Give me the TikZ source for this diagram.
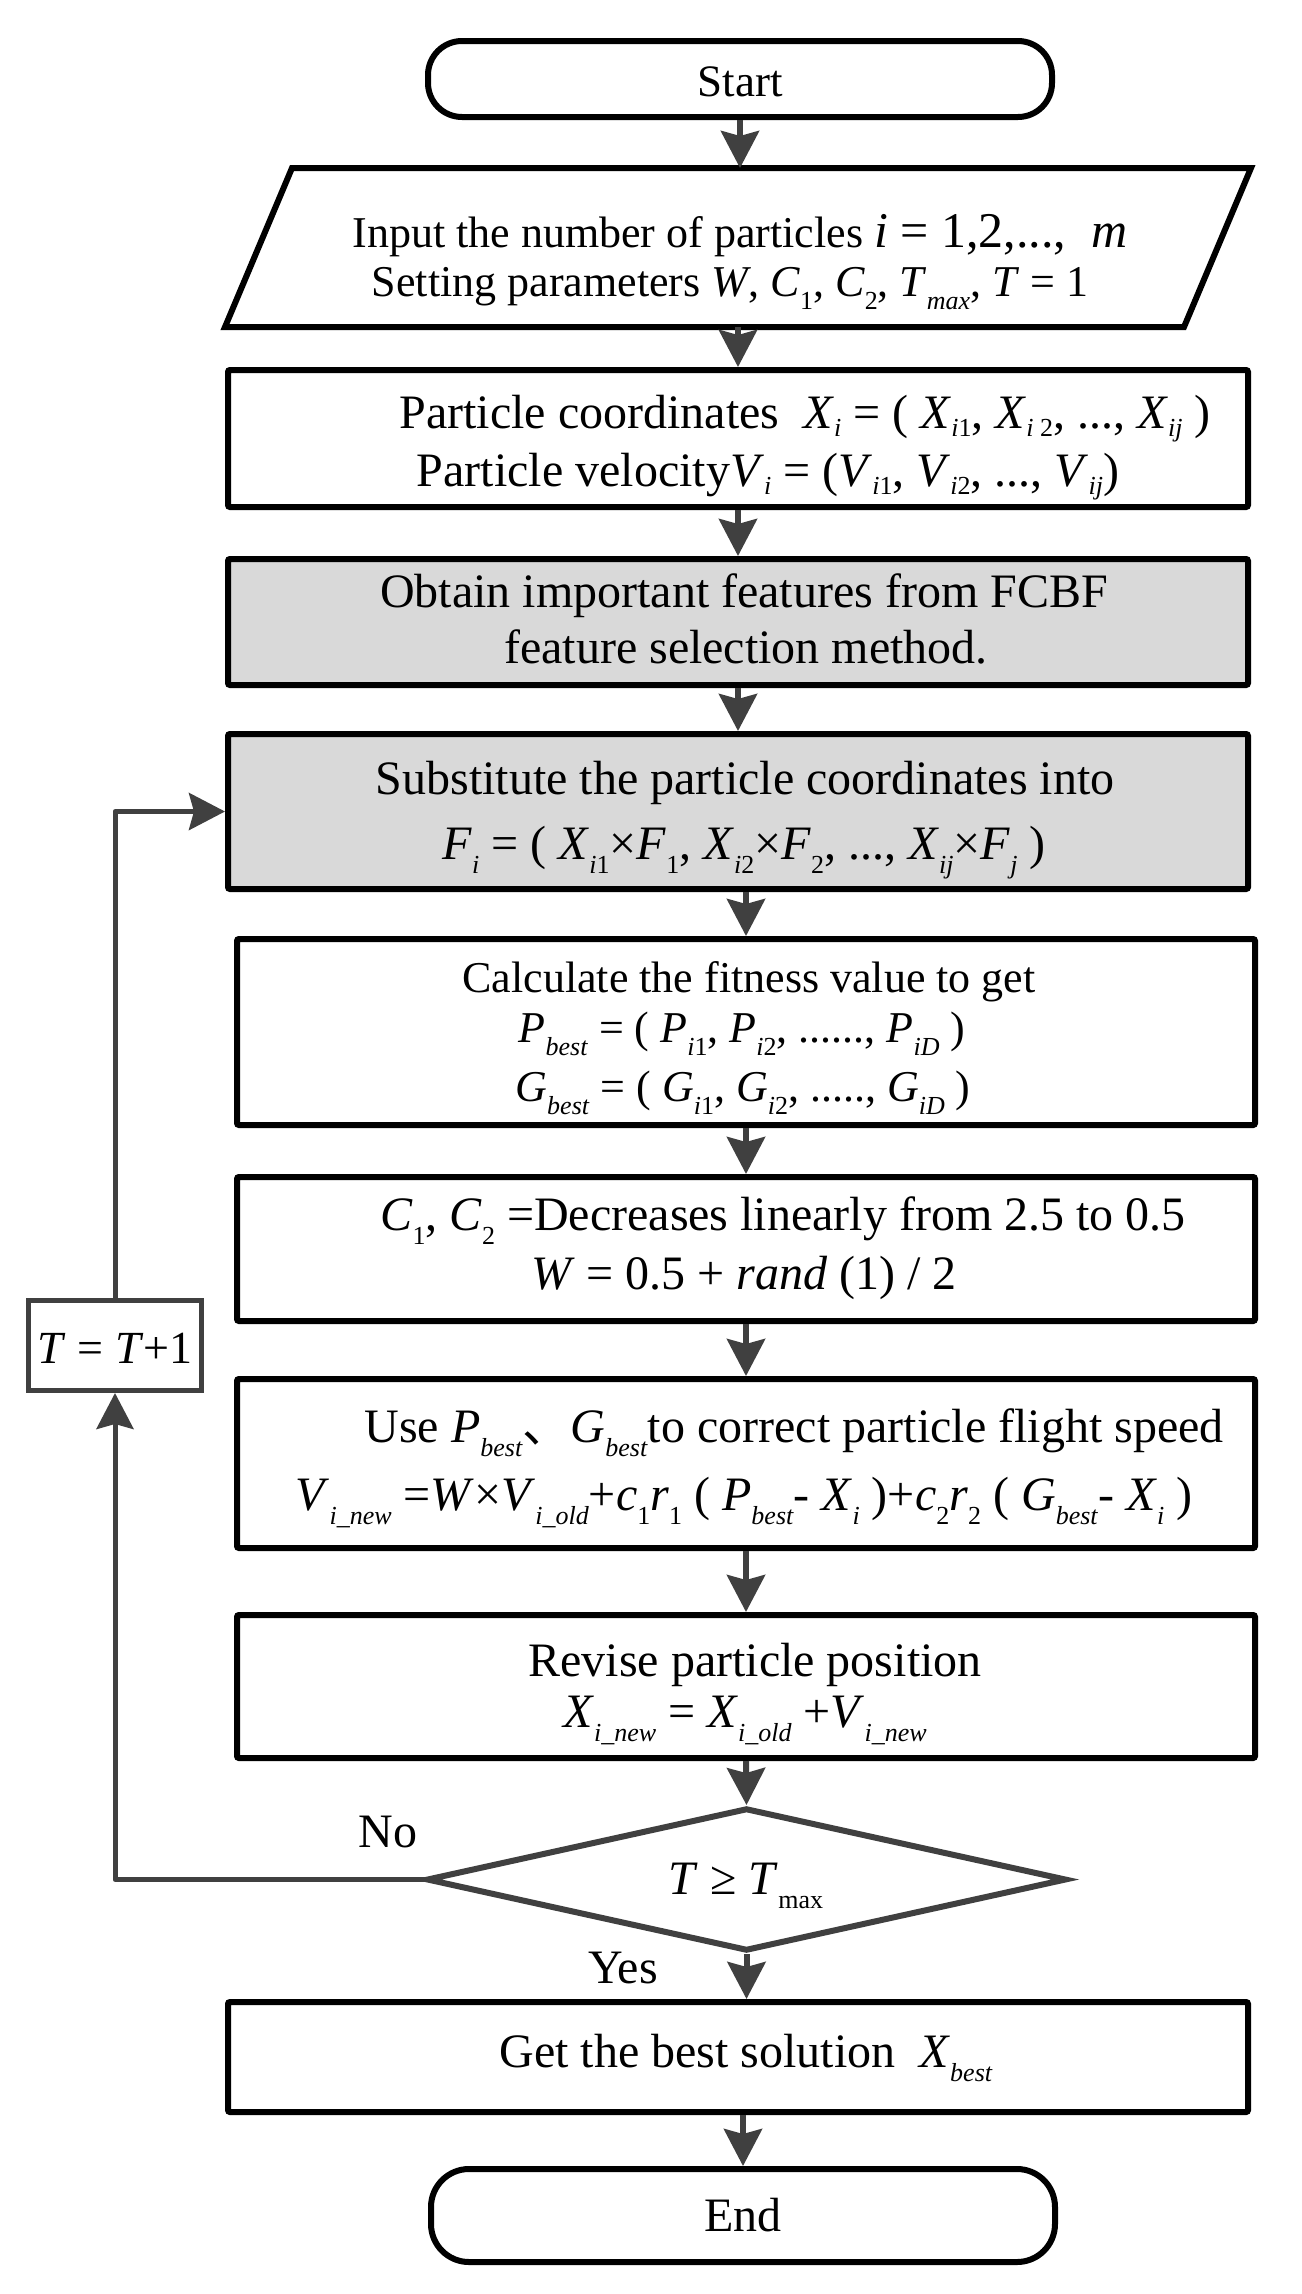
\documentclass[tikz,border=0pt]{standalone}
\usepackage{fontspec}
\setmainfont{Liberation Serif}
\newfontfamily\cjk{Noto Sans CJK SC}
\usetikzlibrary{arrows.meta,shapes.geometric}
\definecolor{dg}{HTML}{404040}
\definecolor{lg}{HTML}{D9D9D9}
\newcommand\lo[1]{\raisebox{-0.3em}{\fontsize{26}{26}\selectfont #1}}
\newcommand\los[1]{\raisebox{-0.18em}{\fontsize{26}{26}\selectfont #1}}
\newcommand\mi[1]{\textit{#1}}
\begin{document}
\begin{tikzpicture}[x=1pt,y=-1pt,
  box/.style={draw=black, line width=6pt, minimum width=1020pt, inner sep=0pt, rounded corners=2pt},
  gbox/.style={box, fill=lg},
  term/.style={draw=black, line width=6pt, minimum width=624pt, inner sep=0pt},
  arr/.style={draw=dg, line width=6pt, -{Stealth[length=37pt,width=38pt,inset=5pt]}},
  loopline/.style={draw=dg, line width=5pt, line join=round, -{Stealth[length=36pt,width=37pt,inset=5pt]}},
  txt/.style={anchor=base, inner sep=0pt, font=\fontsize{48}{48}\selectfont},
  stxt/.style={anchor=base, inner sep=0pt, font=\fontsize{44}{44}\selectfont}]
\useasboundingbox[fill=white] (0,0) rectangle (1301,2294);

% shapes
\node[term, minimum height=76pt, rounded corners=34pt] (start) at (740,79) {};
\node[minimum width=1020pt, minimum height=153pt, inner sep=0pt, outer sep=3pt] (para) at (738,247.5) {};
\draw[black, line width=6pt] ([xshift=67pt]para.north west) -- (para.north east) -- ([xshift=-67pt]para.south east) -- (para.south west) -- cycle;
\node[box, minimum height=137pt] (b3) at (738,438.5) {};
\node[gbox, minimum height=126pt] (b4) at (738,622) {};
\node[gbox, minimum height=155pt] (b5) at (738,811.5) {};
\node[box, minimum width=1018pt, minimum height=186pt] (b6) at (746,1032) {};
\node[box, minimum width=1018pt, minimum height=144pt] (b7) at (746,1249) {};
\node[box, minimum width=1018pt, minimum height=169pt] (b8) at (746,1463.5) {};
\node[box, minimum width=1018pt, minimum height=143pt] (b9) at (746,1686.5) {};
\node[diamond, draw=dg, line width=6pt, minimum width=640pt, minimum height=143pt, inner sep=0pt] (dia) at (746.5,1879.5) {};
\node[box, minimum height=110pt] (fin) at (738,2057) {};
\node[term, minimum height=93pt, rounded corners=38pt] (end) at (743,2215.5) {};
\node[draw=dg, line width=5pt, minimum width=173pt, minimum height=90pt, inner sep=0pt] (tb) at (115,1345.5) {};

% texts
\node[txt, font=\fontsize{45}{45}\selectfont] (tstart) at (740,96) {Start};
\node[stxt] (tp1) at (740,247) {Input the number of particles {\fontsize{50}{50}\selectfont \mi{i}\ = 1,2,..., \ \mi{m}}};
\node[stxt] (tp2) at (730,296) {Setting parameters \mi{W}, \mi{C}\lo{1}, \mi{C}\lo{2}, \mi{T}\lo{\mi{max}}, \mi{T} = 1};
\node[txt] (t3a) at (805,428) {Particle coordinates\ \ \mi{X}\los{\mi{i}} = ( \mi{X}\los{\mi{i}1}, \mi{X}\los{\mi{i} 2}, ..., \mi{X}\los{\mi{ij}} )};
\node[txt] (t3b) at (768,486) {Particle velocity\mi{V}\los{\mi{i}} = (\mi{V}\los{\mi{i}1}, \mi{V}\los{\mi{i}2}, ..., \mi{V}\los{\mi{ij}})};
\node[txt] (t4a) at (744,607) {Obtain important features from FCBF};
\node[txt] (t4b) at (746,663) {feature selection method.};
\node[txt] (t5a) at (745,794) {Substitute the particle coordinates into};
\node[txt] (t5b) at (744,859) {\mi{F}\lo{\mi{i}} = ( \mi{X}\lo{\mi{i}1}×\mi{F}\lo{1}, \mi{X}\lo{\mi{i}2}×\mi{F}\lo{2}, ..., \mi{X}\lo{\mi{ij}}×\mi{F}\lo{\mi{j}} )};
\node[stxt] (t6a) at (749,992) {Calculate the fitness value to get};
\node[stxt] (t6b) at (742,1042) {\mi{P}\lo{\mi{best}} = ( \mi{P}\lo{\mi{i}1}, \mi{P}\lo{\mi{i}2}, ......, \mi{P}\lo{\mi{iD}} )};
\node[stxt] (t6c) at (743,1101) {\mi{G}\lo{\mi{best}} = ( \mi{G}\lo{\mi{i}1}, \mi{G}\lo{\mi{i}2}, ....., \mi{G}\lo{\mi{iD}} )};
\node[txt] (t7a) at (783,1230) {\mi{C}\lo{1}, \mi{C}\lo{2} =Decreases linearly from 2.5 to 0.5};
\node[txt] (t7b) at (744,1289) {\mi{W} = 0.5 + \mi{rand} (1) / 2};
\node[txt] (t8a) at (794,1442) {Use \mi{P}\lo{\mi{best}}{\cjk 、}\mi{G}\lo{\mi{best}}to correct particle flight speed};
\node[txt] (t8b) at (744,1510) {\mi{V}\lo{\mi{i\_new}} =\mi{W}×\mi{V}\lo{\mi{i\_old}}+\mi{c}\lo{1}\mi{r}\lo{1} ( \mi{P}\lo{\mi{best}}- \mi{X}\lo{\mi{i}} )+\mi{c}\lo{2}\mi{r}\lo{2} ( \mi{G}\lo{\mi{best}}- \mi{X}\lo{\mi{i}} )};
\node[txt] (t9a) at (755,1676) {Revise particle position};
\node[txt] (t9b) at (745,1727) {\mi{X}\lo{\mi{i\_new}} = \mi{X}\lo{\mi{i\_old}} +\mi{V}\lo{\mi{i\_new}}};
\node[txt] (tdia) at (746,1894) {\mi{T} ≥ \mi{T}\lo{max}};
\node[txt] (tfin) at (746,2067) {Get the best solution\ \ \mi{X}\lo{\mi{best}}};
\node[txt] (tend) at (743,2231) {End};
\node[txt] (tno) at (388,1847) {No};
\node[txt] (tyes) at (623,1983) {Yes};
\node[txt, font=\fontsize{46}{46}\selectfont] (ttb) at (115,1363) {\mi{T} = \mi{T}+1};

% connectors
\draw[arr] (start.south) -- (start.south |- para.north);
\draw[arr] (b3.north |- para.south) -- (b3.north);
\draw[arr] (b3.south) -- (b4.north);
\draw[arr] (b4.south) -- (b5.north);
\draw[arr] (b6.north |- b5.south) -- (b6.north);
\draw[arr] (b6.south) -- (b7.north);
\draw[arr] (b7.south) -- (b8.north);
\draw[arr] (b8.south) -- (b9.north);
\draw[arr] (b9.south) -- (dia.north);
\draw[arr] (dia.south) -- (dia.south |- fin.north);
\draw[arr] (end.north |- fin.south) -- (end.north);
\draw[loopline] (dia.west) -| (tb.south);
\draw[loopline] (tb.north) |- (b5.west);
\end{tikzpicture}
\end{document}
